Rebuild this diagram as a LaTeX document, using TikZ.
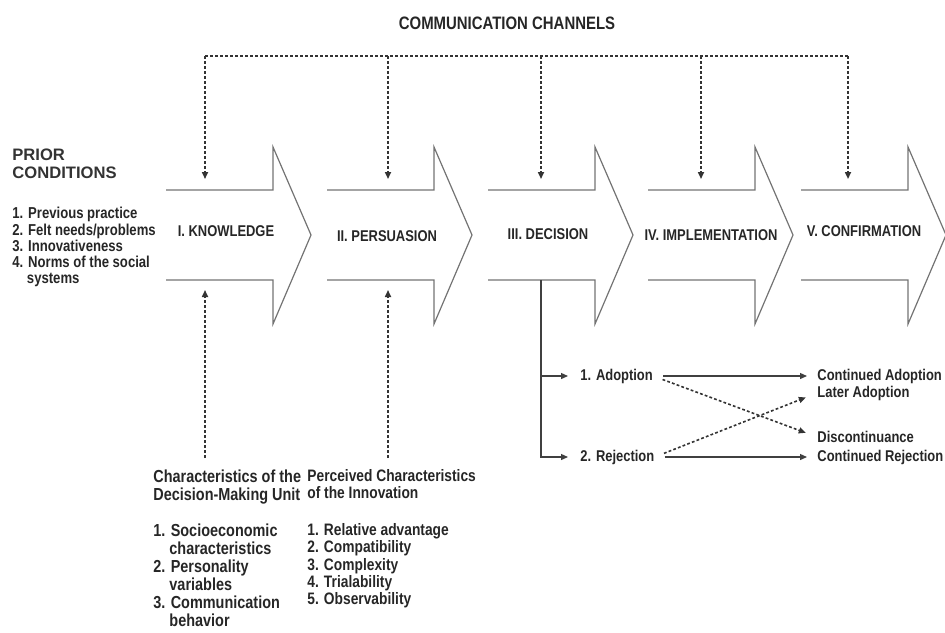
\documentclass[tikz,border=0pt]{standalone}
\usepackage{fontspec}
\setmainfont{Liberation Sans}
\newfontfamily\condfont[FakeStretch=0.83]{Liberation Sans}
\usetikzlibrary{arrows.meta}

\begin{document}
\begin{tikzpicture}[
  x=0.5pt, y=-0.5pt,
  stage/.style={font=\condfont\bfseries\fontsize{7.8}{9}\selectfont, inner sep=0pt, text=black!85},
  lab/.style={font=\condfont\bfseries\fontsize{7.8}{8.5}\selectfont, align=left,
              anchor=west, inner sep=0pt, text=black!85},
  block/.style={align=left, anchor=north west, inner sep=0pt, text=black!85},
  chev/.style={draw=black!55, line width=0.6pt, line join=miter},
  chan/.style={draw=black!80, line width=0.8pt, dash pattern=on 1.4pt off 1.1pt},
  flow/.style={draw=black!75, line width=0.6pt},
  tip/.style={-{Triangle[length=3.5pt,width=3pt]}}
]
\useasboundingbox (0,0) rectangle (945,632);

% ── the five stages ──────────────────────────────────────────────────
\foreach \x in {166,327,488,648,801}
  \draw[chev] (\x,190) -- ++(107,0) -- ++(0,-43) -- ++(38,88)
              -- ++(-38,89) -- ++(0,-44) -- ++(-107,0);

\node[stage] (knowledge)      at (226,231) {I. KNOWLEDGE};
\node[stage] (persuasion)     at (387,236) {II. PERSUASION};
\node[stage] (decision)       at (548,234) {III. DECISION};
\node[stage] (implementation) at (711,235) {IV. IMPLEMENTATION};
\node[stage] (confirmation)   at (864,231) {V. CONFIRMATION};

% ── communication channels ───────────────────────────────────────────
\node[font=\condfont\bfseries\fontsize{9}{10}\selectfont, text=black!85]
     (channels) at (507,23) {COMMUNICATION CHANNELS};
\foreach \i/\x in {1/205,2/388,3/541,4/701,5/848} {
  \coordinate (ch\i) at (\x,56);
  \coordinate (in\i) at (\x,179);
  \draw[chan, tip] (ch\i) -- (in\i);
}
\draw[chan] (ch1) -- (ch5);

% ── prior conditions ─────────────────────────────────────────────────
\node[block, font=\bfseries\fontsize{8.3}{9}\selectfont, text=black!80] (prior) at (12,149)
     {PRIOR\\CONDITIONS};
\node[block, font=\condfont\bfseries\fontsize{7.9}{8.1}\selectfont] (priorlist) at (12,207)
     {1. Previous practice\\2. Felt needs/problems\\3. Innovativeness\\
      4. Norms of the social\\\hphantom{4.~}systems};

% ── characteristics feeding the first two stages ─────────────────────
\node[block, font=\condfont\bfseries\fontsize{8.7}{9}\selectfont] (unit) at (153,469)
     {Characteristics of the\\Decision-Making Unit\\[9pt]
      1. Socioeconomic\\\hphantom{1.~}characteristics\\2. Personality\\
      \hphantom{2.~}variables\\3. Communication\\\hphantom{3.~}behavior};
\node[block, font=\condfont\bfseries\fontsize{8.3}{8.6}\selectfont] (innov) at (307,469)
     {Perceived Characteristics\\of the Innovation\\[9.9pt]
      1. Relative advantage\\2. Compatibility\\3. Complexity\\
      4. Trialability\\5. Observability};

\coordinate (unit-up)  at (205,458);
\coordinate (innov-up) at (388,458);
\coordinate (k-low)    at (205,290);
\coordinate (p-low)    at (388,290);
\draw[chan, tip] (unit-up) -- (k-low);
\draw[chan, tip] (innov-up) -- (p-low);

% ── the decision branches ────────────────────────────────────────────
\node[lab] (adopt)  at (580,376) {1. Adoption};
\node[lab] (reject) at (580,457) {2. Rejection};

\node[lab] (contadopt)  at (817,376) {Continued Adoption};
\node[lab] (later)      at (817,393) {Later Adoption};
\node[lab] (discont)    at (817,437) {Discontinuance};
\node[lab] (contreject) at (817,457) {Continued Rejection};

\coordinate (dec-foot) at (541,280);
\draw[flow, tip, shorten >=6pt] (dec-foot) |- (reject.west);
\draw[flow, tip, shorten >=6pt] (dec-foot |- adopt.west) -- (adopt.west);

\draw[flow, tip, shorten <=5pt, shorten >=5pt] (adopt.east) -- (contadopt.west);
\draw[flow, tip, shorten <=5pt, shorten >=5pt] (reject.east) -- (contreject.west);
\draw[chan, tip, shorten <=5pt, shorten >=6pt] (adopt.east) -- (discont.west);
\draw[chan, tip, shorten <=5pt, shorten >=6pt] (reject.east) -- (later.west);

\end{tikzpicture}
\end{document}
